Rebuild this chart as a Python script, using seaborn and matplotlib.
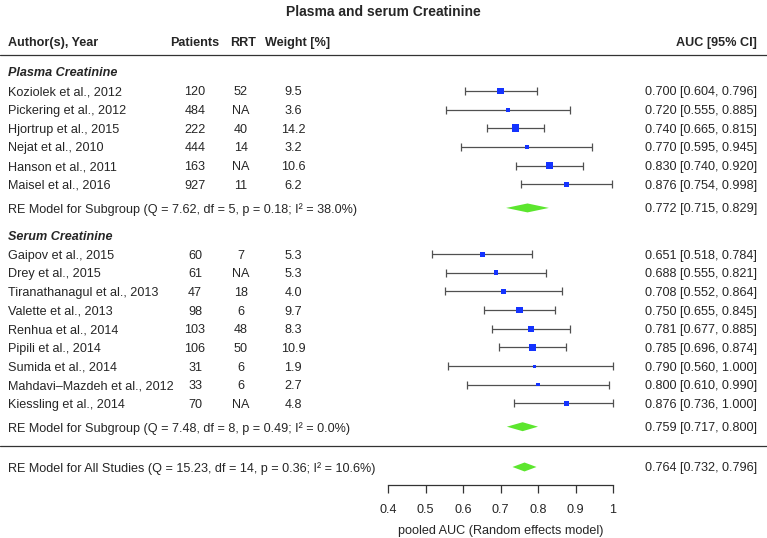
import numpy as np
import pandas as pd
import matplotlib
matplotlib.use("Agg")
import matplotlib.pyplot as plt
import seaborn as sns

# study-level data
plasma_authors = ["Koziolek et al., 2012", "Pickering et al., 2012", "Hjortrup et al., 2015",
                  "Nejat et al., 2010", "Hanson et al., 2011", "Maisel et al., 2016"]
plasma_patients = ["120", "484", "222", "444", "163", "927"]
plasma_rrt = ["52", "NA", "40", "14", "NA", "11"]
plasma_weight = [9.5, 3.6, 14.2, 3.2, 10.6, 6.2]
plasma_auc = [0.700, 0.720, 0.740, 0.770, 0.830, 0.876]
plasma_lo = [0.604, 0.555, 0.665, 0.595, 0.740, 0.754]
plasma_hi = [0.796, 0.885, 0.815, 0.945, 0.920, 0.998]

serum_authors = ["Gaipov et al., 2015", "Drey et al., 2015", "Tiranathanagul et al., 2013",
                 "Valette et al., 2013", "Renhua et al., 2014", "Pipili et al., 2014",
                 "Sumida et al., 2014", "Mahdavi\u2013Mazdeh et al., 2012", "Kiessling et al., 2014"]
serum_patients = ["60", "61", "47", "98", "103", "106", "31", "33", "70"]
serum_rrt = ["7", "NA", "18", "6", "48", "50", "6", "6", "NA"]
serum_weight = [5.3, 5.3, 4.0, 9.7, 8.3, 10.9, 1.9, 2.7, 4.8]
serum_auc = [0.651, 0.688, 0.708, 0.750, 0.781, 0.785, 0.790, 0.800, 0.876]
serum_lo = [0.518, 0.555, 0.552, 0.655, 0.677, 0.696, 0.560, 0.610, 0.736]
serum_hi = [0.784, 0.821, 0.864, 0.845, 0.885, 0.874, 1.000, 0.990, 1.000]

# pooled estimates: plasma, serum, all
pooled_labels = ["RE Model for Subgroup (Q = 7.62, df = 5, p = 0.18; I\u00b2 = 38.0%)",
                 "RE Model for Subgroup (Q = 7.48, df = 8, p = 0.49; I\u00b2 = 0.0%)",
                 "RE Model for All Studies (Q = 15.23, df = 14, p = 0.36; I\u00b2 = 10.6%)"]
pooled_auc = [0.772, 0.759, 0.764]
pooled_lo = [0.715, 0.717, 0.732]
pooled_hi = [0.829, 0.800, 0.796]

x_ticks = [0.4, 0.5, 0.6, 0.7, 0.8, 0.9, 1.0]
x_tick_labels = ["0.4", "0.5", "0.6", "0.7", "0.8", "0.9", "1"]

# ---- layout (row units, top to bottom) ----
W, H = 767, 538
ROW_PX = 18.65
TOP_PX = 91  # pixel of first study row
px_per_unit = 375.0
x0 = 0.4 - 388 / px_per_unit


def px2x(px):
    return x0 + px / px_per_unit


def pxrow(py):
    return (py - TOP_PX) / ROW_PX


plasma_rows = np.arange(len(plasma_auc), dtype=float)
serum_rows = 8.75 + np.arange(len(serum_auc), dtype=float)
pooled_rows = [6.27, 18.0, 20.16]

df = pd.DataFrame({
    "author": plasma_authors + serum_authors,
    "patients": plasma_patients + serum_patients,
    "rrt": plasma_rrt + serum_rrt,
    "weight": plasma_weight + serum_weight,
    "auc": plasma_auc + serum_auc,
    "lo": plasma_lo + serum_lo,
    "hi": plasma_hi + serum_hi,
    "row": np.concatenate([plasma_rows, serum_rows]),
})

sns.set_style("white")
plt.rcParams["font.family"] = ["Liberation Sans", "DejaVu Sans"]
FS = 9.1
VA = "center_baseline"

fig = plt.figure(figsize=(W / 100, H / 100), dpi=100)
ax = fig.add_axes([0, 0, 1, 1])
ax.set_xlim(px2x(0), px2x(W))
ax.set_ylim(pxrow(H), pxrow(0))
ax.axis("off")

# confidence intervals
ax.errorbar(df["auc"], df["row"], xerr=[df["auc"] - df["lo"], df["hi"] - df["auc"]],
            fmt="none", ecolor="#505050", elinewidth=0.9, capsize=3.2, capthick=0.9, zorder=2)

# squares: area proportional to weight
size_map = {w: 2.3 * w for w in df["weight"].unique()}
sns.scatterplot(data=df, x="auc", y="row", size="weight", sizes=size_map, marker="s",
                color="#1433ff", edgecolor="none", legend=False, ax=ax, zorder=3)

# pooled diamonds
half_h = 0.24
for est, lo, hi, r in zip(pooled_auc, pooled_lo, pooled_hi, pooled_rows):
    ax.fill([lo, est, hi, est], [r, r - half_h, r, r + half_h], color="#5ce62e", lw=0, zorder=3)

# text columns
x_author = px2x(8)
x_pat = px2x(195)
x_rrt = px2x(241)
x_wt = px2x(293)
x_auc = px2x(757)

fig.text(0.5, 1 - 12 / H, "Plasma and serum Creatinine", ha="center", va="center",
         fontsize=10, fontweight="bold")

hdr = pxrow(42)
ax.text(x_author, hdr, "Author(s), Year", ha="left", va=VA, fontsize=FS, fontweight="bold")
ax.text(x_pat, hdr, "Patients", ha="center", va=VA, fontsize=FS, fontweight="bold")
ax.text(px2x(243), hdr, "RRT", ha="center", va=VA, fontsize=FS, fontweight="bold")
ax.text(px2x(298), hdr, "Weight [%]", ha="center", va=VA, fontsize=FS, fontweight="bold")
ax.text(x_auc, hdr, "AUC [95% CI]", ha="right", va=VA, fontsize=FS, fontweight="bold")
ax.axhline(pxrow(55), color="#333333", lw=0.9)

ax.text(x_author, pxrow(72), "Plasma Creatinine", ha="left", va=VA, fontsize=FS,
        fontweight="bold", fontstyle="italic")
ax.text(x_author, pxrow(236), "Serum Creatinine", ha="left", va=VA, fontsize=FS,
        fontweight="bold", fontstyle="italic")

for _, s in df.iterrows():
    r = s["row"]
    ax.text(x_author, r, s["author"], ha="left", va=VA, fontsize=FS)
    ax.text(x_pat, r, s["patients"], ha="center", va=VA, fontsize=FS)
    ax.text(x_rrt, r, s["rrt"], ha="center", va=VA, fontsize=FS)
    ax.text(x_wt, r, f"{s['weight']:.1f}", ha="center", va=VA, fontsize=FS)
    ax.text(x_auc, r, f"{s['auc']:.3f} [{s['lo']:.3f}, {s['hi']:.3f}]",
            ha="right", va=VA, fontsize=FS)

for lab, est, lo, hi, r in zip(pooled_labels, pooled_auc, pooled_lo, pooled_hi, pooled_rows):
    ax.text(x_author, r, lab, ha="left", va=VA, fontsize=FS)
    ax.text(x_auc, r, f"{est:.3f} [{lo:.3f}, {hi:.3f}]", ha="right", va=VA, fontsize=FS)

ax.axhline(pxrow(446), color="#333333", lw=0.9)

# x axis
axx = fig.add_axes([388 / W, 1 - 485 / H, 225 / W, 0.0001])
axx.set_xlim(0.4, 1.0)
axx.set_yticks([])
for side in ["top", "left", "right"]:
    axx.spines[side].set_visible(False)
axx.spines["bottom"].set_color("#333333")
axx.spines["bottom"].set_linewidth(0.9)
axx.set_xticks(x_ticks)
axx.set_xticklabels(x_tick_labels)
axx.tick_params(axis="x", direction="out", length=6, width=0.9, color="#333333",
                labelsize=FS, pad=8, bottom=True)
axx.set_xlabel("pooled AUC (Random effects model)", fontsize=FS, labelpad=6)
axx.patch.set_visible(False)

plt.savefig("out.png", dpi=100)
